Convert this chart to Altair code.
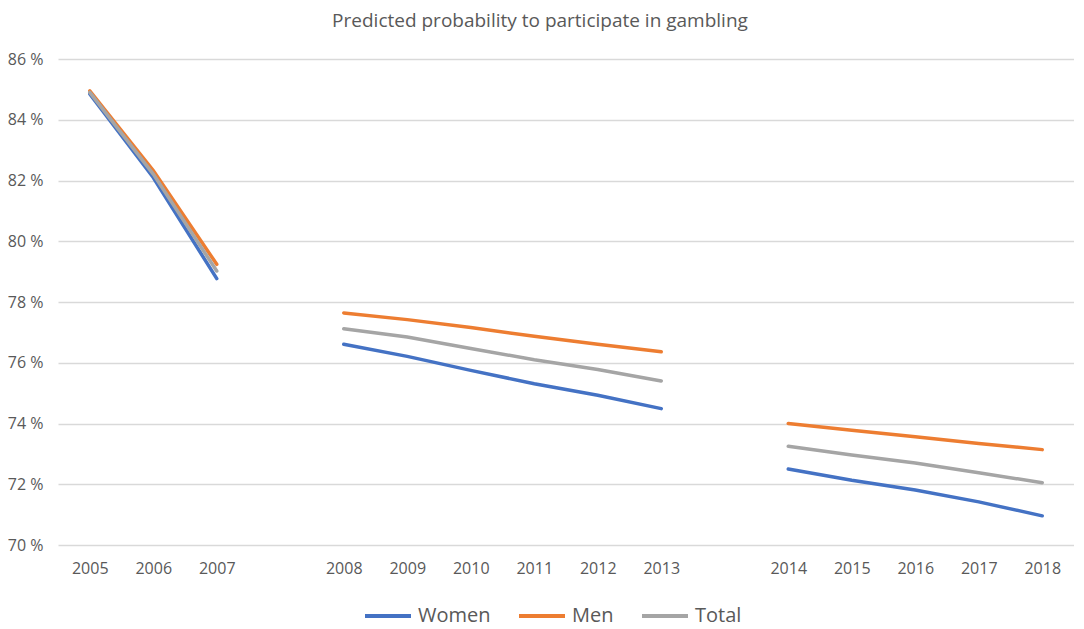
import altair as alt
import pandas as pd

years = ["2005", "2006", "2007", "gap1", "2008", "2009", "2010", "2011", "2012", "2013",
         "gap2", "2014", "2015", "2016", "2017", "2018"]

seg_years = [
    ["2005", "2006", "2007"],
    ["2008", "2009", "2010", "2011", "2012", "2013"],
    ["2014", "2015", "2016", "2017", "2018"],
]

women = [84.85, 82.10, 78.77,
         76.61, 76.21, 75.75, 75.31, 74.93, 74.49,
         72.50, 72.13, 71.81, 71.42, 70.96]
men = [84.95, 82.33, 79.24,
       77.64, 77.42, 77.16, 76.87, 76.61, 76.36,
       74.00, 73.78, 73.56, 73.34, 73.14]
total = [84.90, 82.21, 79.02,
         77.12, 76.85, 76.47, 76.10, 75.78, 75.40,
         73.25, 72.96, 72.70, 72.38, 72.05]

series_names = ["Women", "Men", "Total"]
series_vals = [women, men, total]
colors = ["#4472C4", "#ED7D31", "#A5A5A5"]

rows = []
for name, vals in zip(series_names, series_vals):
    i = 0
    for s, ys in enumerate(seg_years):
        for y in ys:
            rows.append({"year": y, "value": vals[i], "series": name, "seg": s})
            i += 1
df = pd.DataFrame(rows)

FONT = "Open Sans"
GREY = "#595959"

chart = alt.Chart(df).mark_line(strokeWidth=3.5, strokeCap="round").encode(
    x=alt.X("year:O", sort=years,
            scale=alt.Scale(type="point", domain=years, padding=0.5),
            axis=alt.Axis(title=None, labelAngle=0, ticks=False, domain=False, grid=False,
                          labelExpr="indexof(datum.label, 'gap') >= 0 ? '' : datum.label",
                          labelFont=FONT, labelFontSize=16, labelColor=GREY, labelPadding=15)),
    y=alt.Y("value:Q",
            scale=alt.Scale(domain=[70, 86], nice=False, zero=False),
            axis=alt.Axis(title=None, values=list(range(70, 87, 2)), ticks=False, domain=False,
                          labelExpr="datum.value + ' %'", gridColor="#D9D9D9", gridWidth=1.3,
                          labelFont=FONT, labelFontSize=16, labelColor=GREY, labelPadding=15)),
    color=alt.Color("series:N", sort=series_names,
                    scale=alt.Scale(domain=series_names, range=colors),
                    legend=alt.Legend(title=None, orient="none", direction="horizontal",
                                      legendX=305, legendY=532,
                                      symbolType="stroke", symbolSize=2116, symbolStrokeWidth=4,
                                      labelFont=FONT, labelFontSize=20, labelColor=GREY,
                                      labelOffset=5, columnPadding=20)),
    detail="seg:N",
).properties(
    width=1016,
    height=486,
    title=alt.TitleParams("Predicted probability to participate in gambling",
                          font=FONT, fontSize=19, fontWeight="normal", color=GREY,
                          anchor="middle", dx=-26, offset=20),
    autosize=alt.AutoSizeParams(type="none"),
    padding={"left": 50, "top": 51, "right": 0, "bottom": 82},
).configure_view(stroke=None)

chart.save("out.html", embed_options={"renderer": "svg", "actions": False})
